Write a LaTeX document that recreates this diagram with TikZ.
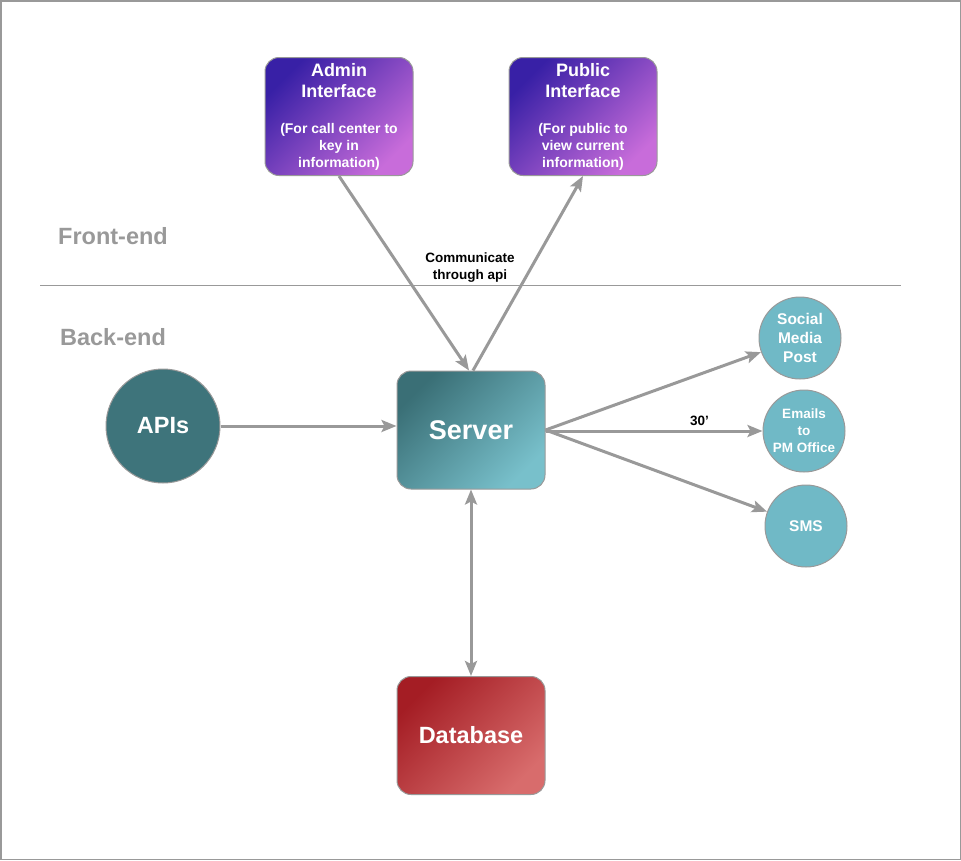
\documentclass[tikz,border=0pt]{standalone}
\usepackage{fontspec}
\setmainfont{Liberation Sans}
\usetikzlibrary{arrows.meta}

\definecolor{linegray}{HTML}{999999}
\definecolor{purpleA}{HTML}{3820A6}
\definecolor{purpleB}{HTML}{C86CDA}
\definecolor{tealA}{HTML}{3A6F76}
\definecolor{tealB}{HTML}{78C0CB}
\definecolor{redA}{HTML}{A41D24}
\definecolor{redB}{HTML}{D86C6C}
\definecolor{apisfill}{HTML}{3E747B}
\definecolor{outfill}{HTML}{70B9C6}

\newcommand{\titlefont}{\fontsize{18}{22}\selectfont}

\tikzset{
  box/.style={rounded corners=14pt, draw=linegray, line width=1pt,
    minimum width=148pt, minimum height=118pt, text=white,
    font=\bfseries, align=center, inner sep=0pt},
  purplebox/.style={box, top color=purpleA, bottom color=purpleB, shading angle=45,
    font=\bfseries\fontsize{14}{17}\selectfont},
  tealbox/.style={box, top color=tealA, bottom color=tealB, shading angle=45},
  redbox/.style={box, top color=redA, bottom color=redB, shading angle=45},
  disc/.style={circle, draw=linegray, line width=1pt, text=white,
    font=\bfseries, align=center, inner sep=0pt},
  outdisc/.style={disc, fill=outfill, minimum size=82pt},
  tip/.tip={Stealth[length=15pt, width=12pt, inset=3pt]},
  conn/.style={draw=linegray, line width=3pt, -tip},
  biconn/.style={draw=linegray, line width=3pt, tip-tip},
  zone/.style={text=linegray, font=\bfseries\fontsize{23.5}{26}\selectfont},
  note/.style={text=black, font=\bfseries\fontsize{13.5}{17}\selectfont, align=center}
}

\begin{document}
\begin{tikzpicture}[x=1pt, y=-1pt]
  \useasboundingbox (0,0) rectangle (961,860);
  \draw[linegray, line width=1.5pt] (0.75,0.75) rectangle (960.25,859.25);

  % front-end / back-end divider
  \coordinate (divL) at (40,285);
  \coordinate (divR) at (901,285);
  \draw[linegray, line width=1pt] (divL) -- (divR);
  \node[zone] (front) at (113,236) {Front-end};
  \node[zone] (back) at (113,337) {Back-end};

  % front-end interfaces
  \node[purplebox] (admin) at (339,116.5)
    {\titlefont Admin\\[4pt]\titlefont Interface\\[19pt](For call center to\\key in\\information)};
  \node[purplebox] (public) at (583,116.5)
    {\titlefont Public\\[4pt]\titlefont Interface\\[19pt](For public to\\view current\\information)};

  % back-end components
  \node[tealbox, font=\bfseries\fontsize{27}{30}\selectfont] (server) at (471,430) {Server};
  \node[redbox, font=\bfseries\fontsize{23.5}{26}\selectfont] (db) at (471,735.5) {Database};
  \node[disc, fill=apisfill, minimum size=114pt, font=\bfseries\fontsize{23.5}{26}\selectfont] (apis) at (163,426) {APIs};

  \node[outdisc, font=\bfseries\fontsize{15.5}{19}\selectfont] (social) at (800,338) {Social\\Media\\Post};
  \node[outdisc, font=\bfseries\fontsize{13.5}{17}\selectfont] (emails) at (804,431) {Emails\\to\\PM Office};
  \node[outdisc, font=\bfseries\fontsize{15.5}{19}\selectfont] (sms) at (806,526) {SMS};

  \node[note] (api) at (470,268) {Communicate\\through api};

  % connectors
  \draw[conn] (admin.south) -- ([xshift=-2pt]server.north);
  \draw[conn] ([xshift=2pt]server.north) -- (public.south);
  \draw[conn] (apis.east) -- (server.west |- apis.east);
  \draw[conn] (server.east) -- (social);
  \draw[conn] ([yshift=-1pt]server.east) -- (emails.west)
    node[pos=0.71, above=1pt, note] (delay) {30'};
  \draw[conn] (server.east) -- (sms);
  \draw[biconn] (server.south) -- (db.north);
\end{tikzpicture}
\end{document}
